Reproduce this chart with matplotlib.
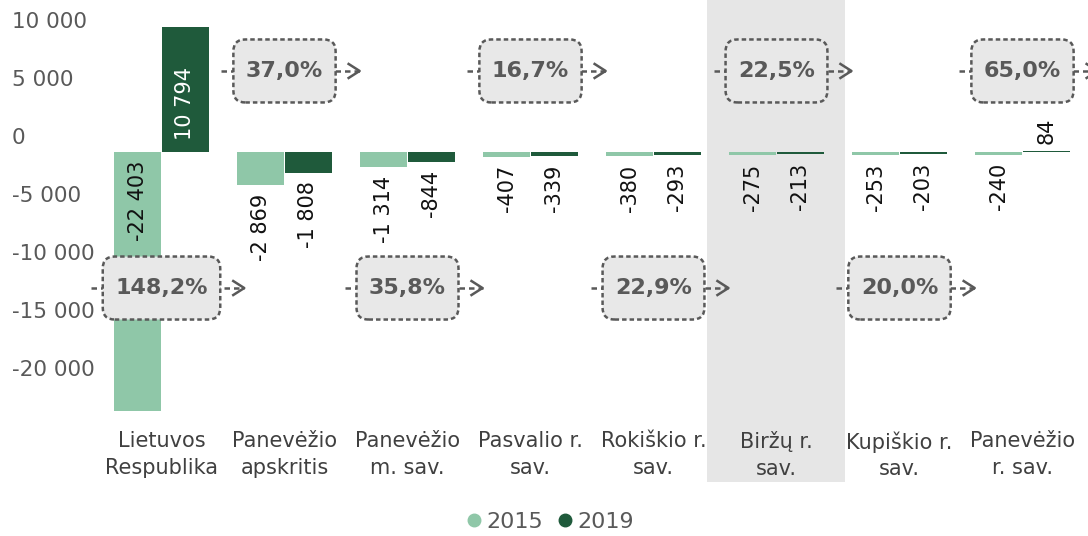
# -*- coding: utf-8 -*-
# Gyventojų skaičiaus pokytis: 2015 ir 2019 m.
import matplotlib
matplotlib.use("Agg")
import matplotlib.pyplot as plt
import matplotlib.transforms as mtransforms
from matplotlib.patches import FancyBboxPatch, Rectangle
from matplotlib.lines import Line2D
import numpy as np

# duomenys
categories = ["Lietuvos\nRespublika", "Panevėžio\napskritis", "Panevėžio\nm. sav.",
              "Pasvalio r.\nsav.", "Rokiškio r.\nsav.", "Biržų r.\nsav.",
              "Kupiškio r.\nsav.", "Panevėžio\nr. sav."]
values_2015 = [-22403, -2869, -1314, -407, -380, -275, -253, -240]
values_2019 = [10794, -1808, -844, -339, -293, -213, -203, 84]
change_labels = ["148,2%", "37,0%", "35,8%", "16,7%", "22,9%", "22,5%", "20,0%", "65,0%"]
y_ticks = [10000, 5000, 0, -5000, -10000, -15000, -20000]
highlight = 5  # Biržų r. sav.

C2015 = "#8fc7a8"
C2019 = "#1f5a3b"
GREY = "#595959"
DPI = 100


def fmt(v):
    return "{:,}".format(v).replace(",", " ")


fig = plt.figure(figsize=(10.88, 5.36), dpi=DPI)
ax = fig.add_axes([100 / 1088, 116 / 536, 984 / 1088, 420 / 536])
ax.set_xlim(-0.5, 7.5)
ax.set_ylim(-23150, 13130)
for s in ax.spines.values():
    s.set_visible(False)

x = np.arange(len(categories))
w = 0.375
off = 0.195

# paryškinta sritis
ax.add_patch(Rectangle((highlight - 0.565, -0.148), 1.122, 1.148,
                       transform=ax.get_xaxis_transform(),
                       facecolor="#e6e6e6", edgecolor="none", zorder=0, clip_on=False))

ax.bar(x - off, values_2015, w, color=C2015, zorder=2)
ax.bar(x + off, values_2019, w, color=C2019, zorder=2)

# reikšmių etiketės
for xs, vals, inside_col in [(x - off, values_2015, "#111111"), (x + off, values_2019, "white")]:
    for xi, v in zip(xs, vals):
        if abs(v) > 5000:
            # viduje prie pagrindo
            if v > 0:
                ax.annotate(fmt(v), (xi, 0), xytext=(0, 9), textcoords="offset points",
                            rotation=90, ha="center", va="bottom", fontsize=15,
                            color=inside_col, zorder=4)
            else:
                ax.annotate(fmt(v), (xi, 0), xytext=(0, -6), textcoords="offset points",
                            rotation=90, ha="center", va="top", fontsize=15,
                            color="#111111", zorder=4)
        else:
            if v > 0:
                ax.annotate(fmt(v), (xi, v), xytext=(0, 5), textcoords="offset points",
                            rotation=90, ha="center", va="bottom", fontsize=15,
                            color="#111111", zorder=4)
            else:
                ax.annotate(fmt(v), (xi, v), xytext=(0, -6), textcoords="offset points",
                            rotation=90, ha="center", va="top", fontsize=15,
                            color="#111111", zorder=4)

# y ašis
ax.set_yticks([])
ytrans = mtransforms.offset_copy(ax.get_yaxis_transform(), fig=fig, x=-88, y=14, units="dots")
for t in y_ticks:
    ax.text(0, t, fmt(t), transform=ytrans, ha="left", va="center", fontsize=15.5,
            color=GREY, clip_on=False)

# x ašis
ax.set_xticks(x)
ax.set_xticklabels(categories, fontsize=15, color="#404040", linespacing=1.42)
ax.tick_params(axis="x", length=0, pad=8)

# pokyčio langeliai
fig.canvas.draw()
renderer = fig.canvas.get_renderer()
for i, lab in enumerate(change_labels):
    yc = 7000 if i % 2 == 1 else -11750
    trans = fig.dpi_scale_trans + mtransforms.ScaledTranslation(x[i], yc, ax.transData)
    t = ax.text(0, 0, lab, transform=trans, ha="center", va="center", fontsize=16,
                fontweight="bold", color=GREY, zorder=6)
    bb = t.get_window_extent(renderer)
    bw = bb.width / DPI + 0.25
    bh = 0.63
    ax.add_patch(FancyBboxPatch((-bw / 2, -bh / 2), bw, bh, transform=trans,
                                boxstyle="round,pad=0,rounding_size=0.12",
                                facecolor="#e8e8e8", edgecolor=GREY, lw=1.8,
                                linestyle=(0, (1.8, 1.2)), zorder=5, clip_on=False))
    tip = bw / 2 + 0.24
    ax.add_line(Line2D([-bw / 2 - 0.12, tip], [0, 0], transform=trans, color=GREY,
                       lw=1.8, linestyle=(0, (2.2, 1.6)), zorder=4, clip_on=False))
    ax.add_line(Line2D([tip - 0.11, tip, tip - 0.11], [0.07, 0, -0.07], transform=trans,
                       color=GREY, lw=1.8, zorder=4, clip_on=False))

# legenda
handles = [Line2D([], [], marker="o", linestyle="none", markersize=9, color=C2015, label="2015"),
           Line2D([], [], marker="o", linestyle="none", markersize=9, color=C2019, label="2019")]
fig.legend(handles=handles, loc="center", bbox_to_anchor=(0.504, 0.026), ncol=2,
           frameon=False, fontsize=16, handletextpad=0.05, columnspacing=0.5,
           handlelength=1.0, labelcolor=GREY, borderpad=0)

fig.savefig("out.png", dpi=DPI)
